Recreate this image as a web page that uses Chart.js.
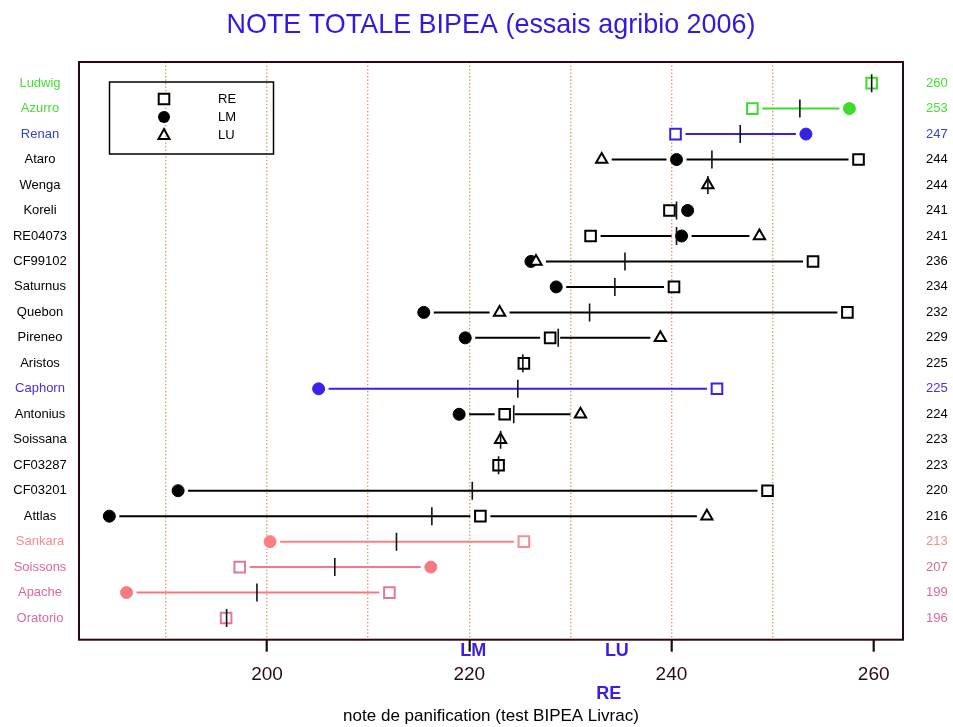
<!DOCTYPE html>
<html>
<head>
<meta charset="utf-8">
<script src="https://cdn.jsdelivr.net/npm/chart.js@4.4.1/dist/chart.umd.min.js"></script>
<style>
html,body{margin:0;padding:0;background:#fff;}
#wrap{width:953px;height:727px;position:relative;}
</style>
</head>
<body>
<div id="wrap"><canvas id="c" width="953" height="727"></canvas></div>
<script>
// ---------------- DATA ----------------
const varieties = ['Ludwig','Azurro','Renan','Ataro','Wenga','Koreli','RE04073','CF99102','Saturnus','Quebon','Pireneo','Aristos','Caphorn','Antonius','Soissana','CF03287','CF03201','Attlas','Sankara','Soissons','Apache','Oratorio'];
const rowGroup = ['green','green','blue','black','black','black','black','black','black','black','black','black','blue2','black','black','black','black','black','salmon','pink','pink','pink'];
const valRE = [259.8, 248.0, 240.4, 258.5, null, 239.8, 232.0, 254.0, 240.25, 257.4, 228.0, 225.4, 244.5, 223.5, null, 222.9, 249.5, 221.1, 225.4, 197.3, 212.1, 195.95];
const valLM = [null, 257.6, 253.3, 240.5, null, 241.6, 241.0, 226.1, 228.6, 215.5, 219.6, null, 205.1, 219.0, null, null, 191.2, 184.4, 200.3, 216.2, 186.1, null];
const valLU = [null, null, null, 233.1, 243.6, null, 248.7, 226.6, null, 223.0, 238.9, null, null, 231.0, 223.1, null, null, 243.5, null, null, null, null];
const valMean = [259.8, 252.7, 246.8, 244.0, 243.6, 240.5, 240.5, 235.4, 234.4, 231.9, 228.8, 225.3, 224.8, 224.4, 223.1, 222.9, 220.3, 216.3, 212.8, 206.7, 199.0, 196.0];
const meanLabels = ['260','253','247','244','244','241','241','236','234','232','229','225','225','224','223','223','220','216','213','207','199','196'];
const xTickLabels = [200, 220, 240, 260];
const traitNames = ['LM','LU','RE'];
const traitMeans = [220.4, 234.6, 233.8];
const titleText = 'NOTE TOTALE BIPEA (essais agribio 2006)';
const xAxisTitle = 'note de panification (test BIPEA Livrac)';

// ---------------- STYLE ----------------
const groupMark = {green:'#3ddc2a', blue:'#3322e6', blue2:'#3a22e8', black:'#000000', salmon:'#fb8080', pink:'#f77a82'};
const groupSquare = {green:'#3ddc2a', blue:'#3322e6', blue2:'#3a22e8', black:'#000000', salmon:'#fb8a8a', pink:'#e47796'};
const groupLabel = {green:'#44dd33', blue:'#3344cc', blue2:'#4b2ee0', black:'#000000', salmon:'#fb8a8a', pink:'#d96aa0'};
const FONT = "'Liberation Sans', Arial, Helvetica, sans-serif";

function pts(vals){ const out=[]; vals.forEach((v,i)=>{ if(v!==null) out.push({x:v,y:i,g:rowGroup[i]}); }); return out; }
const reData = pts(valRE), lmData = pts(valLM), luData = pts(valLU), meanData = pts(valMean);

const linesPlugin = {
  id:'rowLines',
  beforeDatasetsDraw(chart){
    const ctx=chart.ctx, xs=chart.scales.x, ys=chart.scales.y, gap=10;
    ctx.save();
    ctx.lineWidth=2;
    varieties.forEach((name,i)=>{
      const vals=[valRE[i],valLM[i],valLU[i]].filter(v=>v!==null).sort((a,b)=>a-b);
      const y=ys.getPixelForValue(i);
      ctx.strokeStyle=groupMark[rowGroup[i]];
      for(let k=0;k<vals.length-1;k++){
        const a=xs.getPixelForValue(vals[k])+gap, b=xs.getPixelForValue(vals[k+1])-gap;
        if(b>a){ ctx.beginPath(); ctx.moveTo(a,y); ctx.lineTo(b,y); ctx.stroke(); }
      }
    });
    ctx.restore();
  }
};

const decoPlugin = {
  id:'deco',
  afterDraw(chart){
    const ctx=chart.ctx, a=chart.chartArea, xs=chart.scales.x, ys=chart.scales.y;
    ctx.save();
    // plot frame
    ctx.strokeStyle='#2a0618'; ctx.lineWidth=2;
    ctx.strokeRect(a.left,a.top,a.right-a.left,a.bottom-a.top);
    // title
    ctx.fillStyle='#3318e0';
    ctx.font='28px '+FONT;
    const tw=ctx.measureText(titleText).width;
    const sx=529/tw;
    ctx.save();
    ctx.translate((a.left+a.right)/2, 32.7);
    ctx.scale(sx,1);
    ctx.textAlign='center'; ctx.textBaseline='alphabetic';
    ctx.fillText(titleText,0,0);
    ctx.restore();
    // row labels
    ctx.font='13px '+FONT; ctx.textBaseline='middle';
    varieties.forEach((name,i)=>{
      const y=ys.getPixelForValue(i);
      ctx.fillStyle=groupLabel[rowGroup[i]];
      ctx.textAlign='center'; ctx.fillText(name,40,y);
      ctx.textAlign='left'; ctx.fillText(meanLabels[i],926,y);
    });
    // trait mean annotations
    ctx.font='bold 18px '+FONT; ctx.fillStyle='#3a1ee8'; ctx.textAlign='center';
    const rowsY=[651,651,694];
    traitNames.forEach((t,k)=>{ ctx.fillText(t, xs.getPixelForValue(traitMeans[k]), rowsY[k]); });
    // axis title
    ctx.font='17px '+FONT; ctx.fillStyle='#000'; ctx.textAlign='center';
    ctx.fillText(xAxisTitle,(a.left+a.right)/2,716);
    // legend
    ctx.lineWidth=1.5; ctx.strokeStyle='#000';
    ctx.strokeRect(109.5,82,164,72);
    const lx=164, ly=[99,117,135];
    ctx.lineWidth=2; ctx.fillStyle='#fff';
    ctx.beginPath(); ctx.rect(lx-5.3,ly[0]-5.3,10.6,10.6); ctx.fill(); ctx.stroke();
    ctx.fillStyle='#000'; ctx.beginPath(); ctx.arc(lx,ly[1],6,0,Math.PI*2); ctx.fill();
    ctx.beginPath(); ctx.moveTo(lx,ly[2]-6); ctx.lineTo(lx+5.5,ly[2]+4); ctx.lineTo(lx-5.5,ly[2]+4); ctx.closePath(); ctx.stroke();
    ctx.font='13px '+FONT; ctx.fillStyle='#000'; ctx.textAlign='left'; ctx.textBaseline='middle';
    ['RE','LM','LU'].forEach((t,k)=>ctx.fillText(t,218,ly[k]));
    ctx.restore();
  }
};

const colorOf = (map)=> (c)=> (c.raw ? map[c.raw.g] : '#000');

new Chart(document.getElementById('c'), {
  type:'scatter',
  data:{datasets:[
    {label:'mean', data:meanData, pointStyle:'line', rotation:90, pointRadius:9, pointHoverRadius:9,
     borderColor:'#111', borderWidth:1.6, backgroundColor:'#111', order:0},
    {label:'LM', data:lmData, pointStyle:'circle', pointRadius:6, pointHoverRadius:6,
     backgroundColor:colorOf(groupMark), borderColor:colorOf(groupMark), borderWidth:1, order:2},
    {label:'RE', data:reData, pointStyle:'rect', pointRadius:7.5, pointHoverRadius:7.5,
     backgroundColor:'#ffffff', borderColor:colorOf(groupSquare), borderWidth:2, order:1},
    {label:'LU', data:luData, pointStyle:'triangle', pointRadius:6.5, pointHoverRadius:6.5,
     backgroundColor:'#ffffff', borderColor:colorOf(groupMark), borderWidth:2, order:1}
  ]},
  options:{
    responsive:false, animation:false, devicePixelRatio:1,
    layout:{padding:{left:79, right:50, top:62, bottom:28.5}},
    plugins:{legend:{display:false}, tooltip:{enabled:false}, title:{display:false}},
    scales:{
      x:{type:'linear', min:181.4, max:262.9, position:'bottom',
         afterBuildTicks:(s)=>{ const t=[]; for(let v=190; v<=260; v+=10) t.push({value:v}); s.ticks=t; },
         grid:{color:(c)=> (c.tick && c.tick.value===260 ? 'rgba(0,0,0,0)' : '#d8945a'), lineWidth:1.4,
               drawTicks:true, tickLength:12, tickWidth:2.2,
               tickColor:(c)=> (c.tick && xTickLabels.includes(c.tick.value) ? '#111' : 'rgba(0,0,0,0)')},
         border:{display:false, dash:[1.3,2.2]},
         ticks:{autoSkip:false, maxRotation:0, padding:12, color:'#2b0b18', font:{size:19, family:FONT},
                callback:(v)=> (xTickLabels.includes(v) ? String(v) : '')}
      },
      y:{type:'linear', display:false, reverse:true, min:-0.83, max:21.85}
    }
  },
  plugins:[linesPlugin, decoPlugin]
});
</script>
</body>
</html>
